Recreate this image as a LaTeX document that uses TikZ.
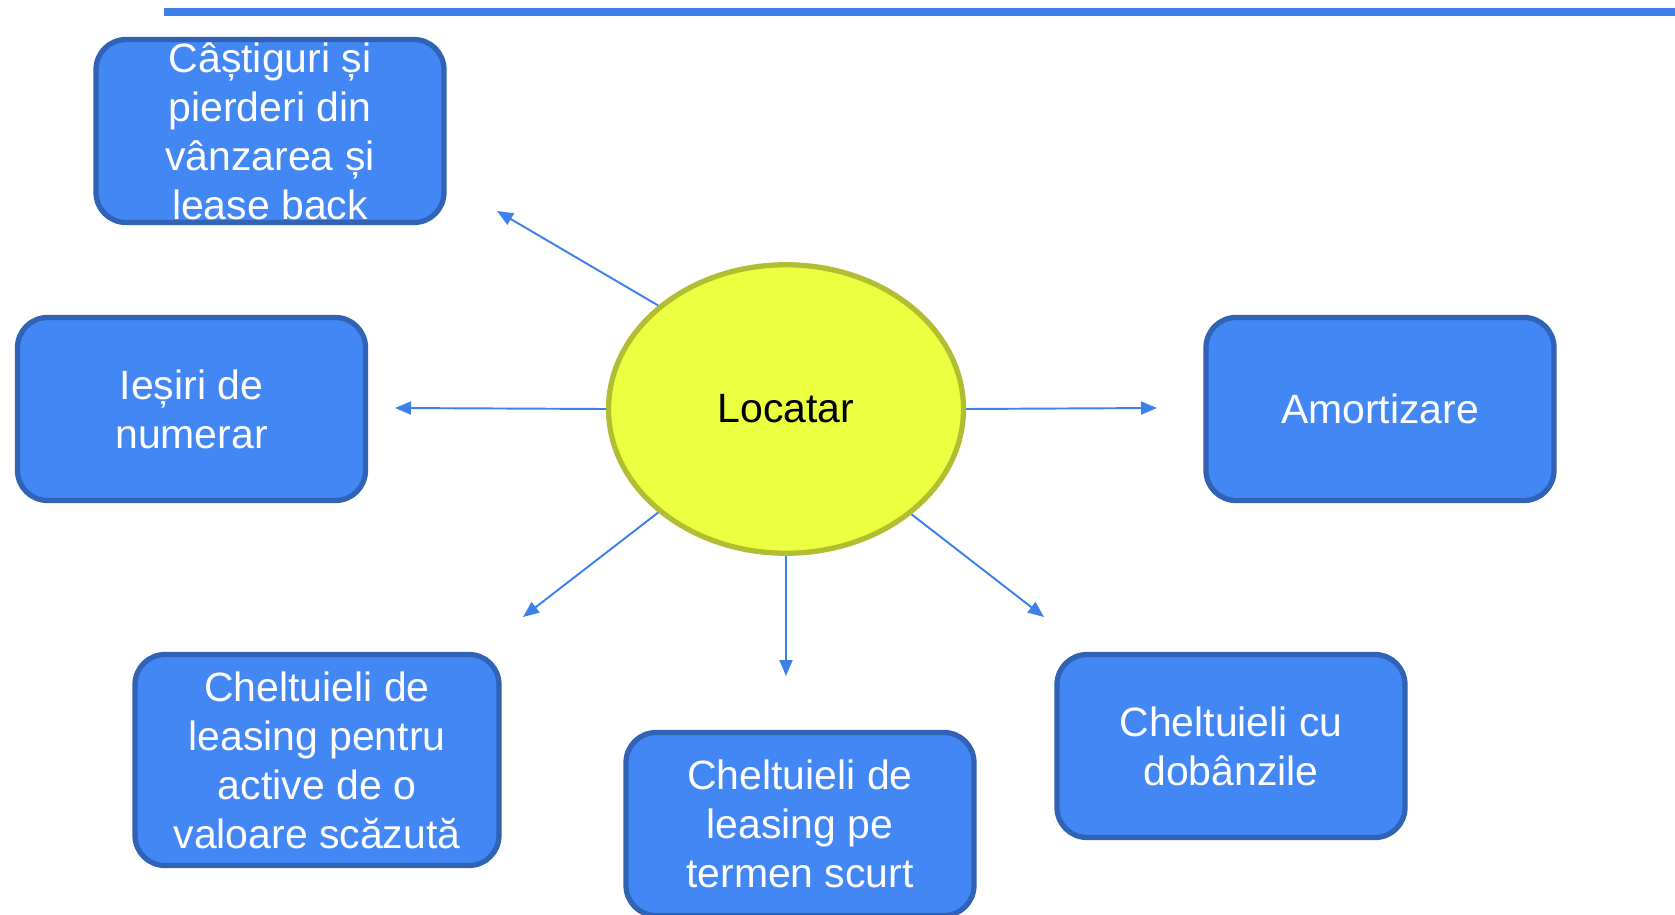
\documentclass[tikz,border=0pt]{standalone}
\usepackage{fontspec}
\setmainfont{Liberation Sans}
\usetikzlibrary{shapes.geometric, arrows.meta}
\definecolor{boxblue}{HTML}{4387F5}
\definecolor{boxedge}{HTML}{3063B6}
\definecolor{lineblue}{HTML}{3D80EA}
\definecolor{hubfill}{HTML}{EAFF3F}
\definecolor{hubedge}{HTML}{B3BD31}

\begin{document}
\begin{tikzpicture}[
	itembox/.style={draw=boxedge, line width=3pt, fill=boxblue, rounded corners=0.6cm,
		minimum width=6.96cm, minimum height=3.66cm, inner sep=0pt, align=center,
		text=white, font=\fontsize{23.3}{27.9}\selectfont},
	hub/.style={ellipse, draw=hubedge, line width=3pt, fill=hubfill,
		minimum width=7.1cm, minimum height=5.77cm, inner sep=0pt,
		font=\fontsize{23.3}{27.9}\selectfont},
	link/.style={lineblue, line width=1.1pt, -{Triangle[length=0.32cm, width=0.26cm]}}]
	\useasboundingbox (0,0) rectangle (33.5,-18.3);
	% Top rule
	\fill[lineblue] (3.27,-0.16) rectangle (33.5,-0.32);
	% Centre
	\node[hub] (loc) at (15.72,-8.18) {Locatar};
	% Boxes
	\node[itembox] (castig) at (5.4,-2.62) {Câștiguri și\\pierderi din\\vânzarea și\\lease back};
	\node[itembox] (iesiri) at (3.83,-8.18) {Ieșiri de\\numerar};
	\node[itembox] (amort) at (27.6,-8.18) {Amortizare};
	\node[itembox, minimum width=7.28cm, minimum height=4.22cm] (valmica) at (6.34,-15.2)
		{Cheltuieli de\\leasing pentru\\active de o\\valoare scăzută};
	\node[itembox] (scurt) at (16.0,-16.48) {Cheltuieli de\\leasing pe\\termen scurt};
	\node[itembox] (dobanzi) at (24.62,-14.92) {Cheltuieli cu\\dobânzile};
	% Arrow ends
	\coordinate (t1) at (9.94,-4.22);
	\coordinate (t2) at (7.9,-8.16);
	\coordinate (t3) at (23.14,-8.16);
	\coordinate (t4) at (10.46,-12.34);
	\coordinate (t5) at (15.72,-13.52);
	\coordinate (t6) at (20.88,-12.34);
	% Arrows
	\draw[link] (loc.141) -- (t1);
	\draw[link] (loc.west) -- (t2);
	\draw[link] (loc.east) -- (t3);
	\draw[link] (loc.219) -- (t4);
	\draw[link] (loc.south) -- (t5);
	\draw[link] (loc.320) -- (t6);
\end{tikzpicture}
\end{document}
